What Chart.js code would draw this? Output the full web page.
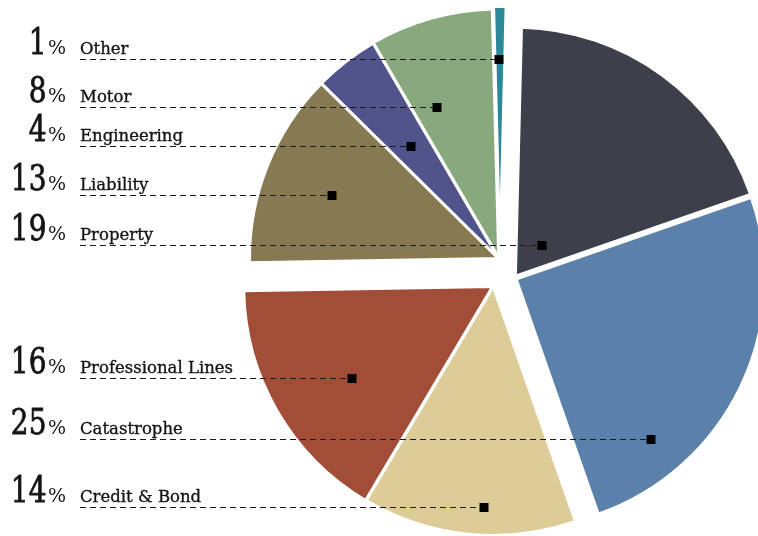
<!DOCTYPE html>
<html>
<head>
<meta charset="utf-8">
<script src="https://cdn.jsdelivr.net/npm/chart.js@4.4.0/dist/chart.umd.min.js"></script>
<style>
  html, body { margin: 0; padding: 0; background: #fff; }
  #wrap { width: 758px; height: 536px; }
</style>
</head>
<body>
<div id="wrap"><canvas id="mixChart"></canvas></div>
<script>
// clockwise from the top
const categories = ['Property', 'Catastrophe', 'Credit & Bond', 'Professional Lines', 'Liability', 'Engineering', 'Motor', 'Other'];
const shares = [19.3, 25.0, 13.9, 16.2, 12.7, 4.2, 8.0, 0.8];

const sliceColors = ['#3d404b', '#5b80aa', '#ddcc98', '#a24d38', '#877a52', '#51548a', '#88a87e', '#2a8898'];

// how far each slice is pulled away from the pie centre (px)
const sliceShift = [[10.4, 8.2], [11.1, 11.1], [-11.7, 18.5], [-12.3, 18.4], [-6.5, -9.6], [-6.5, -9.8], [-6.3, -10.2], [-5, -12.5]];
// where the callout square sits in its slice: [share of the sweep, share of the radius]
const dotSpot = [[0.562, 0.165], [0.766, 0.84], [0.435, 0.886], [0.451, 0.672], [0.479, 0.717], [0.49, 0.569], [0.277, 0.653], [0.44, 0.789]];

const shiftSlices = {
  id: 'shiftSlices',
  beforeDatasetDraw(chart, args) {
    const ctx = chart.ctx;
    args.meta.data.forEach((arc, i) => {
      ctx.save();
      ctx.translate(sliceShift[i][0], sliceShift[i][1]);
      arc.draw(ctx, chart.chartArea);
      ctx.restore();
    });
    return false;
  }
};

const callouts = {
  id: 'callouts',
  afterDatasetsDraw(chart) {
    const ctx = chart.ctx;
    const arcs = chart.getDatasetMeta(0).data;
    arcs.forEach((arc, i) => {
      const { x, y, startAngle, endAngle, outerRadius } = arc.getProps(['x', 'y', 'startAngle', 'endAngle', 'outerRadius'], true);
      const a = startAngle + dotSpot[i][0] * (endAngle - startAngle);
      const r = dotSpot[i][1] * outerRadius;
      const px = Math.round(x + sliceShift[i][0] + Math.cos(a) * r);
      const py = Math.round(y + sliceShift[i][1] + Math.sin(a) * r);

      // leader line
      ctx.save();
      ctx.strokeStyle = '#1a1a1a';
      ctx.lineWidth = 1;
      ctx.setLineDash([6, 4]);
      ctx.beginPath();
      ctx.moveTo(80, py + 0.5);
      ctx.lineTo(px, py + 0.5);
      ctx.stroke();
      ctx.restore();

      ctx.fillStyle = '#000';
      ctx.fillRect(px - 4.5, py - 4, 9, 9);

      // text
      const base = py - 5;
      ctx.fillStyle = '#141414';
      ctx.strokeStyle = '#141414';
      ctx.textBaseline = 'alphabetic';
      ctx.textAlign = 'left';
      ctx.lineWidth = 0.35;
      ctx.font = '16.5px "DejaVu Serif"';
      ctx.fillText(categories[i], 80, base);
      ctx.strokeText(categories[i], 80, base);
      ctx.font = '19px "DejaVu Serif"';
      ctx.fillText('%', 48, base);

      ctx.save();
      ctx.translate(46.5, base);
      ctx.scale(0.8, 1);
      ctx.font = '35px "DejaVu Serif"';
      ctx.textAlign = 'right';
      ctx.lineWidth = 0.8;
      ctx.fillText(String(Math.round(shares[i])), 0, 0);
      ctx.strokeText(String(Math.round(shares[i])), 0, 0);
      ctx.restore();
    });
  }
};

const ctx = document.getElementById('mixChart').getContext('2d');
new Chart(ctx, {
  type: 'pie',
  data: {
    labels: categories,
    datasets: [{
      data: shares,
      backgroundColor: sliceColors,
      borderColor: '#ffffff',
      borderWidth: 3,
      radius: 249
    }]
  },
  options: {
    responsive: true,
    maintainAspectRatio: false,
    animation: false,
    rotation: 1.4,
    layout: { padding: { left: 252 } },
    plugins: {
      legend: { display: false },
      tooltip: { enabled: false }
    }
  },
  plugins: [shiftSlices, callouts]
});
</script>
</body>
</html>
